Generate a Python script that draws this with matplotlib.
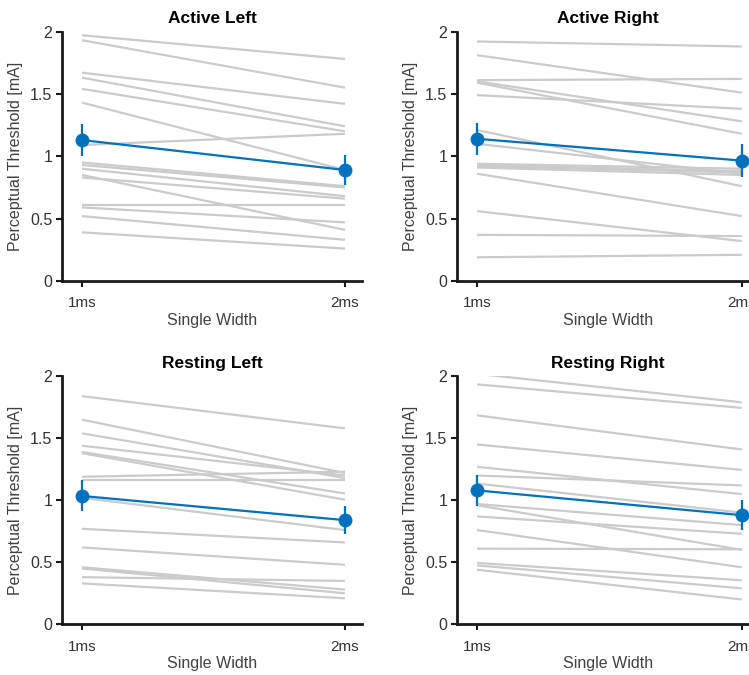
import matplotlib
matplotlib.use("Agg")
import matplotlib.pyplot as plt

plt.rcParams['font.family'] = ['Liberation Sans', 'DejaVu Sans']

# --- data ---
widths = [1, 2]
tick_labels = ["1ms", "2ms"]
titles = ["Active Left", "Active Right", "Resting Left", "Resting Right"]

active_left_1ms = [1.97, 1.93, 1.67, 1.63, 1.54, 1.43, 1.09, 0.95, 0.93, 0.90, 0.85, 0.83, 0.61, 0.59, 0.52, 0.39]
active_left_2ms = [1.78, 1.55, 1.42, 1.24, 1.20, 0.89, 1.18, 0.76, 0.75, 0.68, 0.41, 0.66, 0.61, 0.47, 0.33, 0.26]

active_right_1ms = [1.92, 1.81, 1.61, 1.60, 1.59, 1.49, 1.21, 1.10, 0.94, 0.93, 0.92, 0.91, 0.86, 0.56, 0.37, 0.19]
active_right_2ms = [1.88, 1.51, 1.62, 1.28, 1.18, 1.38, 0.76, 0.86, 0.90, 0.88, 0.87, 0.85, 0.52, 0.32, 0.36, 0.21]

resting_left_1ms = [1.84, 1.65, 1.54, 1.44, 1.39, 1.38, 1.19, 1.16, 1.02, 0.77, 0.62, 0.46, 0.45, 0.38, 0.33]
resting_left_2ms = [1.58, 1.22, 1.18, 1.20, 1.055, 1.005, 1.23, 1.16, 0.76, 0.66, 0.48, 0.28, 0.25, 0.35, 0.21]

resting_right_1ms = [2.02, 1.935, 1.685, 1.45, 1.27, 1.20, 1.135, 0.97, 0.96, 0.87, 0.76, 0.61, 0.495, 0.475, 0.44]
resting_right_2ms = [1.79, 1.745, 1.41, 1.245, 1.05, 1.12, 0.90, 0.80, 0.60, 0.73, 0.46, 0.605, 0.355, 0.29, 0.20]

active_left_mean = [1.13, 0.89]
active_left_err = [0.13, 0.12]
active_right_mean = [1.14, 0.965]
active_right_err = [0.13, 0.13]
resting_left_mean = [1.035, 0.84]
resting_left_err = [0.125, 0.11]
resting_right_mean = [1.08, 0.88]
resting_right_err = [0.125, 0.12]

panels = [
    (active_left_1ms, active_left_2ms, active_left_mean, active_left_err),
    (active_right_1ms, active_right_2ms, active_right_mean, active_right_err),
    (resting_left_1ms, resting_left_2ms, resting_left_mean, resting_left_err),
    (resting_right_1ms, resting_right_2ms, resting_right_mean, resting_right_err),
]

# axes rectangles in figure fraction (left, bottom, width, height)
W, H = 749, 675
rects = [
    (62 / W, (H - 281) / H, 300 / W, 249.5 / H),
    (457 / W, (H - 281) / H, 302 / W, 249.5 / H),
    (62 / W, (H - 624.3) / H, 300 / W, 248 / H),
    (457 / W, (H - 624.3) / H, 302 / W, 248 / H),
]

grey = "#cbcbcb"
blue = "#0072BD"

fig = plt.figure(figsize=(W / 100, H / 100), dpi=100)

for rect, title, (v1, v2, m, e) in zip(rects, titles, panels):
    ax = fig.add_axes(rect)
    for a, b in zip(v1, v2):
        ax.plot(widths, [a, b], color=grey, lw=1.6, solid_capstyle='butt', zorder=1)
    ax.errorbar(widths, m, yerr=e, color=blue, lw=1.6, elinewidth=1.6,
                marker='o', markersize=9, capsize=0, zorder=3)

    ax.set_xlim(0.924, 2.065)
    ax.set_ylim(0, 2)
    ax.set_xticks(widths)
    ax.set_xticklabels(tick_labels)
    ax.set_yticks([0, 0.5, 1, 1.5, 2])
    ax.set_yticklabels(["0", "0.5", "1", "1.5", "2"])

    for s in ['top', 'right']:
        ax.spines[s].set_visible(False)
    for s in ['left', 'bottom']:
        ax.spines[s].set_linewidth(2.0)
        ax.spines[s].set_color('#1a1a1a')

    ax.tick_params(axis='both', direction='out', length=4, width=1.5, color='#1a1a1a')
    ax.tick_params(axis='y', labelsize=11.5, labelcolor='#333333', pad=3)
    ax.tick_params(axis='x', labelsize=11, labelcolor='#333333', pad=7)

    ax.set_title(title, fontsize=12.5, fontweight='bold', pad=6)
    ax.set_xlabel("Single Width", fontsize=11.5, color='#404040', labelpad=2)
    ax.set_ylabel("Perceptual Threshold [mA]", fontsize=11.5, color='#404040', labelpad=5)

fig.savefig("out.png", dpi=100)
